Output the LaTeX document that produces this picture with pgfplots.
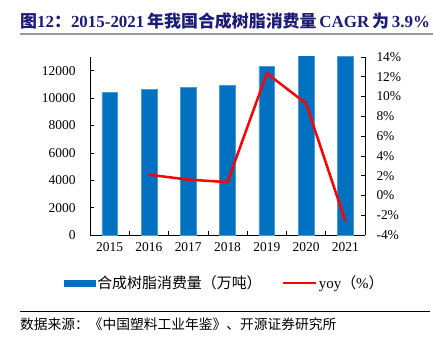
\documentclass[border=0pt]{standalone}
\usepackage{pgfplots}
\pgfplotsset{compat=1.18}
\usepackage{fontspec}
\setmainfont{Liberation Serif}
\newfontfamily\cjk{Noto Sans CJK SC}
\definecolor{barblue}{RGB}{0,112,192}
\definecolor{titlenavy}{RGB}{28,28,118}
\begin{document}
\begin{tikzpicture}[x=1bp,y=1bp]
\useasboundingbox (0,0) rectangle (433,339);
% title
\node[anchor=west,inner sep=0pt,text=titlenavy] at (20,318) {\fontsize{17}{17}\selectfont\bfseries {\cjk 图}12{\cjk ：}2015-2021\,{\cjk 年我国合成树脂消费量}\,CAGR\,{\cjk 为}\,3.9\%};
\draw[gray!80,line width=1.8bp] (20,305) -- (433,305);
% footer
\draw[black,line width=0.8bp] (20,28) -- (430,28);
\node[anchor=west,inner sep=0pt] at (20,15) {\cjk\fontsize{13.8}{13.8}\selectfont 数据来源：《中国塑料工业年鉴》、开源证券研究所};

\begin{axis}[
  at={(90bp,104bp)}, anchor=south west, scale only axis,
  width=275bp, height=178bp,
  xmin=-0.5, xmax=6.5, ymin=0, ymax=13000,
  axis y line*=left, axis x line*=bottom, axis line style={-, black, line width=0.8bp},
  xtick={0,...,6}, xticklabels={2015,2016,2017,2018,2019,2020,2021},
  minor xtick={0.5,1.5,...,5.5},
  ytick={0,2000,...,12000},
  scaled y ticks=false,
  tick align=inside, major tick length=4bp, minor tick length=4bp,
  x tick style={draw=none}, minor x tick style={draw=black, line width=0.6bp},
  y tick style={black, line width=0.6bp},
  /pgf/number format/assume math mode=true,
  /pgf/number format/1000 sep={},
  ticklabel style={font=\fontsize{13.5}{13.5}\selectfont},
  yticklabel style={xshift=-11bp},
  xticklabel style={yshift=-4bp},
  clip=true,
]
\addplot[ybar, bar width=0.4, fill=barblue, draw=barblue!70!white, line width=0.4bp] coordinates {
 (0,10414) (1,10634) (2,10805) (3,10951) (4,12293) (5,13400) (6,13070)};
\end{axis}

\begin{axis}[
  at={(90bp,104bp)}, anchor=south west, scale only axis,
  width=275bp, height=178bp,
  xmin=-0.5, xmax=6.5, ymin=-4, ymax=14,
  axis y line*=right, axis x line=none, axis line style={-, black, line width=0.8bp},
  ytick={-4,-2,...,14},
  yticklabel={\pgfmathprintnumber{\tick}\%},
  tick align=inside, major tick length=4bp,
  y tick style={black, line width=0.6bp},
  /pgf/number format/assume math mode=true,
  ticklabel style={font=\fontsize{13.5}{13.5}\selectfont},
  yticklabel style={xshift=8bp},
  legend style={at={(0.49,-0.27)}, anchor=center, draw=none, fill=none,
    legend columns=2, font=\fontsize{15}{15}\selectfont,
    /tikz/every even column/.append style={column sep=18bp},
    inner sep=0pt},
  legend cell align=left,
]
\addlegendimage{legend image code/.code={\fill[barblue] (0bp,-3.2bp) rectangle (31bp,3.2bp);}}
\addlegendentry{\cjk 合成树脂消费量（万吨）}
\addplot[red, line width=2.5bp, legend image code/.code={\draw[red,line width=2.2bp] (0bp,0bp) -- (33bp,0bp);}] coordinates {
 (1,2.1) (2,1.6) (3,1.35) (4,12.35) (5,9.3) (6,-2.6)};
\addlegendentry{yoy{\cjk （}\%{\cjk ）}}
\end{axis}
\end{tikzpicture}
\end{document}
